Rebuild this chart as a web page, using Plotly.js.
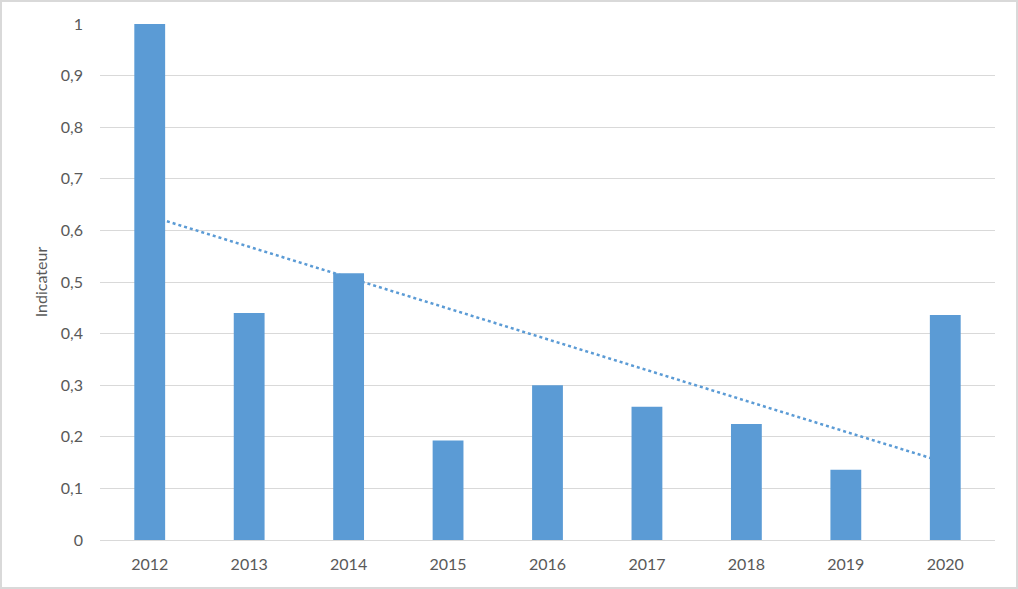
<!DOCTYPE html>
<html>
<head>
<meta charset="utf-8">
<script src="https://cdn.plot.ly/plotly-3.0.1.min.js"></script>
<style>
  html, body { margin: 0; padding: 0; background: #fff; }
  #chart { width: 1014px; height: 585px; border: 2px solid #d9d9d9; }
</style>
</head>
<body>
<div id="chart"></div>
<script>
const years = [2012, 2013, 2014, 2015, 2016, 2017, 2018, 2019, 2020];
const indicateur = [1.0, 0.44, 0.517, 0.193, 0.300, 0.258, 0.225, 0.136, 0.436];
const trendYears = [2012, 2020];
const trendValues = [0.628, 0.150];
const yTicks = [0, 0.1, 0.2, 0.3, 0.4, 0.5, 0.6, 0.7, 0.8, 0.9, 1];

const blue = '#5b9bd5';
const textColor = '#595959';
const font = { family: 'Lato, "Open Sans", sans-serif', size: 16, color: textColor };

const traces = [
  {
    type: 'scatter', mode: 'lines',
    x: trendYears, y: trendValues,
    xaxis: 'x', yaxis: 'y',
    line: { color: blue, width: 2.5, dash: 'dot' },
    hoverinfo: 'skip', showlegend: false
  },
  {
    type: 'bar',
    x: years, y: indicateur,
    xaxis: 'x2', yaxis: 'y2',
    marker: { color: blue },
    showlegend: false
  }
];

const xr = [2011.5, 2020.5];
const yr = [0, 1];

const layout = {
  width: 1014, height: 585,
  margin: { l: 98, r: 21, t: 22, b: 47 },
  paper_bgcolor: '#ffffff', plot_bgcolor: '#ffffff',
  separators: ', ',
  font: font,
  bargap: 0.69,
  showlegend: false,
  xaxis: {
    range: xr, tickvals: years, ticktext: years.map(String),
    showgrid: false, zeroline: false,
    showline: true, linecolor: '#d9d9d9', linewidth: 1,
    ticks: '', ticklen: 0, tickfont: font, automargin: false,
    ticklabelstandoff: 10
  },
  yaxis: {
    range: yr, tickvals: yTicks,
    tickformat: '.1~f',
    showgrid: true, gridcolor: '#d9d9d9', gridwidth: 1,
    zeroline: false, showline: false, ticks: '',
    tickfont: font, automargin: false,
    ticklabelstandoff: 16,
    title: { text: 'Indicateur', font: font, standoff: 9 }
  },
  xaxis2: { overlaying: 'x', range: xr, visible: false, showgrid: false, zeroline: false },
  yaxis2: { overlaying: 'y', range: yr, visible: false, showgrid: false, zeroline: false }
};

Plotly.newPlot('chart', traces, layout, { staticPlot: true, displayModeBar: false });
</script>
</body>
</html>
